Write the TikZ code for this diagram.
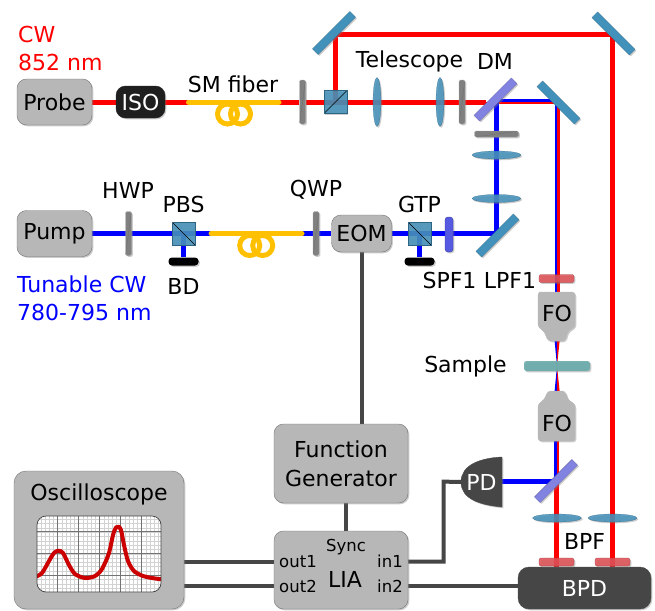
\documentclass[tikz,border=0pt]{standalone}
\usepackage{fontspec}
\setmainfont{DejaVu Sans}
\usepackage{tikz}
\usetikzlibrary{positioning}
\usetikzlibrary{calc}
\usetikzlibrary{shadows}
\usetikzlibrary{backgrounds}
\usetikzlibrary{shapes.geometric}
\definecolor{color-box}{RGB}{183,183,183}
\definecolor{color-edge}{RGB}{115,115,115}
\definecolor{color-dark}{RGB}{70,70,70}
\definecolor{color-fiber}{RGB}{255,192,0}
\definecolor{color-optic}{RGB}{66,145,187}
\definecolor{color-dichroic}{RGB}{130,130,225}
\definecolor{color-filter}{RGB}{224,78,84}
\definecolor{color-spf}{RGB}{85,90,225}
\definecolor{color-sample}{RGB}{105,170,170}

\begin{document}
\begin{tikzpicture}[x=1pt,y=-1pt,
  sh/.style={drop shadow={opacity=0.4,shadow xshift=1.3pt,shadow yshift=-1.3pt}},
  lbl/.style={inner sep=0pt,font=\fontsize{22}{26}\selectfont},
  small/.style={inner sep=0pt,font=\fontsize{16.5}{20}\selectfont},
  box/.style={rectangle,rounded corners=9.5pt,sh,fill=color-box,draw=color-edge,inner sep=0pt,
    font=\fontsize{22}{26}\selectfont,align=center},
  darkbox/.style={box,fill=color-dark,draw=color-dark,text=white},
  plate/.style={rectangle,rounded corners=1.5pt,sh,fill=gray,draw=gray!70,minimum width=6pt,minimum height=44pt,inner sep=0pt,
    path picture={\draw[black!60,very thin] (path picture bounding box.south west) -- (path picture bounding box.north east);}},
  lens/.style={ellipse,sh,fill=color-optic,fill opacity=0.85,draw=color-optic!70!black,very thin,minimum width=8pt,minimum height=49pt,inner sep=0pt},
  mirror/.style={rectangle,sh,fill=color-optic,draw=color-optic!70!black,very thin,minimum width=53pt,minimum height=8pt,inner sep=0pt},
  dichroic/.style={mirror,fill=color-dichroic,draw=color-dichroic!70!black},
  cube/.style={rectangle,sh,fill=color-optic,fill opacity=0.85,draw=color-optic!70!black,minimum size=23pt,inner sep=0pt},
  cubeup/.style={cube,path picture={\draw[black,thin] (path picture bounding box.south west) -- (path picture bounding box.north east);}},
  cubedown/.style={cube,path picture={\draw[black,thin] (path picture bounding box.north west) -- (path picture bounding box.south east);}},
  dump/.style={rectangle,rounded corners=3.5pt,sh,fill=black,minimum width=30pt,minimum height=8pt,inner sep=0pt},
  filt/.style={rectangle,rounded corners=2pt,sh,fill=color-filter,fill opacity=0.85,draw=color-filter!70!black,very thin,minimum width=35pt,minimum height=8pt,inner sep=0pt},
  redbeam/.style={red,line width=5pt},
  bluebeam/.style={blue,line width=5pt},
  fiber/.style={color-fiber,line width=5pt,line cap=round},
  wire/.style={color-dark,line width=4pt}]

\useasboundingbox (0,0) rectangle (655,610);

% sources and boxes
\node [box,minimum width=75pt,minimum height=46pt](probe) at (54.5,102) {Probe};
\node [darkbox,fill=black!88,draw=black!88,minimum width=49pt,minimum height=32pt](iso) at (140.5,102) {ISO};
\node [box,minimum width=75pt,minimum height=46pt](pump) at (54.5,233.5) {Pump};
\node [box,minimum width=60pt,minimum height=37pt](eom) at (361.5,233.5) {EOM};
\node [box,minimum width=134pt,minimum height=79pt](fgen) at (341,463.5) {Function\\[3pt]Generator};
\node [box,minimum width=134pt,minimum height=78pt](lia) at (341,570) {};
\node [box,rounded corners=12pt,minimum width=170pt,minimum height=138pt](oscope) at (99,540) {};
\node [darkbox,rounded corners=11pt,minimum width=133pt,minimum height=42pt](bpd) at (584.5,588) {BPD};

% top line
\node [plate](wp1) at (302.5,102) {};
\node [cubeup](pbs1) at (335.5,102) {};
\node [lens](lens1) at (377,102) {};
\node [lens](lens2) at (440,102) {};
\node [plate](wp2) at (462,102) {};
\node [dichroic](dm1) at (495.5,99.5) [rotate=45] {};
\node [mirror](mirror1) at (334,33) [rotate=45] {};
\node [mirror](mirror2) at (613.5,33.5) [rotate=-45] {};
\node [mirror](mirror3) at (558.5,102.5) [rotate=-45] {};

% pump line
\node [plate](wp3) at (128.5,233.5) {};
\node [cubedown](pbs2) at (183.5,233.5) {};
\node [dump](bd1) at (183.5,261.5) {};
\node [plate](wp4) at (316,233.5) {};
\node [cubedown](gtp) at (419.5,233.5) {};
\node [dump](bd2) at (419.5,261.5) {};
\node [plate,rounded corners=3pt,fill=color-spf,draw=color-spf!70!black,minimum width=8pt,minimum height=35pt,path picture={}](spf) at (449,234.5) {};
\node [mirror](mirror4) at (497.5,235.5) [rotate=45] {};
\node [lens,rotate=90](lens3) at (496.5,198.5) {};
\node [lens,rotate=90](lens4) at (496.5,155) {};
\node [plate,rotate=90](wp5) at (496.5,134) {};

% microscope
\node [filt](lpf) at (556.5,278.5) {};
\filldraw [color-box,sh] (542,292) [rounded corners=3pt] -- (575,292) -- (575,327) -- (568,331) -- (565,341) -- (548,341) -- (544,331) -- (538,327) -- (538,292) -- cycle;
\node [lbl](fo1) at (557,313) {FO};
\node [rectangle,rounded corners=2.5pt,sh,fill=color-sample,fill opacity=0.9,minimum width=66pt,minimum height=10pt,inner sep=0pt](sample) at (557,366) {};
\filldraw [color-box,sh] (548,391) [rounded corners=3pt] -- (565,391) -- (568,400) -- (575,404) -- (575,441) -- (538,441) -- (538,404) -- (544,400) -- cycle;
\node [lbl](fo2) at (557,423) {FO};

% detection
\node [dichroic](dm2) at (556,481) [rotate=45] {};
\node [lens,rotate=90](lens5) at (557,518) {};
\node [lens,rotate=90](lens6) at (612.5,518) {};
\node [filt](bpf1) at (556.5,562) {};
\node [filt](bpf2) at (612.5,562) {};
\filldraw [color-dark,sh] (502,457) .. controls (480,458) and (461,465) .. (461,482) .. controls (461,499) and (480,505) .. (502,507) -- cycle;
\node [lbl,text=white](pd) at (481.5,482) {PD};

% text
\node [lbl,red,anchor=west](cw) at (18,34) {CW};
\node [lbl,red,anchor=west](nm1) at (18,62) {852 nm};
\node [lbl](smf) at (233,84.5) {SM fiber};
\node [lbl](tel) at (409.5,61.5) {Telescope};
\node [lbl](dmtext) at (495,61) {DM};
\node [lbl](hwp) at (128,190) {HWP};
\node [lbl](pbs) at (183.5,204.5) {PBS};
\node [lbl](bd) at (183.5,286) {BD};
\node [lbl](qwp) at (316,190) {QWP};
\node [lbl](gtptext) at (419.5,204.5) {GTP};
\node [lbl,blue,anchor=west](tun) at (17,284.5) {Tunable CW};
\node [lbl,blue,anchor=west](nm2) at (17,312) {780-795 nm};
\node [lbl](spftext) at (449.5,280) {SPF1};
\node [lbl](lpftext) at (510,280) {LPF1};
\node [lbl](sampletext) at (465.5,366.5) {Sample};
\node [lbl](bpftext) at (584.5,541) {BPF};
\node [lbl](osctext) at (99,494) {Oscilloscope};
\node [small](sync) at (346,547.5) {Sync};
\node [lbl](liatext) at (345,579.5) {LIA};
\node [small](out1) at (298,561.5) {out1};
\node [small](out2) at (298,586) {out2};
\node [small](in1) at (390,561.5) {in1};
\node [small](in2) at (390,586) {in2};

% screen of the oscilloscope
\node [rectangle,rounded corners=9pt,fill=white,minimum width=124pt,minimum height=76pt,inner sep=0pt](screen) at (99,554) {};
\begin{scope}
\clip [rounded corners=9pt] (37,516) rectangle (161,592);
\foreach \i in {0,...,29} {
  \draw [gray!35,line width=0.25pt] (36.6+4.2*\i,516) -- (36.6+4.2*\i,592);
}
\foreach \i in {0,...,18} {
  \draw [gray!35,line width=0.25pt] (37,515+4.3*\i) -- (161,515+4.3*\i);
}
\foreach \i in {57.3,78.3,99.3,120.3,141.3} {
  \draw [gray!90!black,line width=0.5pt] (\i,516) -- (\i,592);
}
\foreach \i in {531.7,553.3,575} {
  \draw [gray!90!black,line width=0.5pt] (37,\i) -- (161,\i);
}
\draw [red!80!black,line width=4pt,line join=round] plot [smooth] coordinates {(35,577) (42,573) (49,561) (54,553) (58.5,550.7) (63,553) (69,565) (75,574) (85,578) (95,576) (102,569) (109,553) (113,535) (116,527.5) (118.5,526.7) (121,530) (124,545) (128,561) (134,571) (143,576) (152,578) (163,579.5)};
\end{scope}
\draw [black!75,rounded corners=9pt,line width=0.7pt] (37,516) rectangle (161,592);

\begin{pgfonlayer}{background}
% probe beam
\draw [redbeam] (probe) -- (iso);
\coordinate (f1a) at (188.5,102);
\coordinate (f1b) at (279,102);
\draw [redbeam] (iso) -- (f1a);
\draw [redbeam] (f1b) -- (wp1) -- (pbs1.center) -- (lens1.center) -- (lens2.center) -- (wp2.center) -- (486,102);
\coordinate (r1) at (335.5,35);
\coordinate (r2) at (612,35);
\coordinate (r3) at (612,570);
\draw [redbeam] (pbs1.center) -- (r1) -- (r2) -- (r3);
% after the first dichroic
\coordinate (r4) at (486,103);
\coordinate (r5) at (558.4,103);
\coordinate (r6) at (558.4,292);
\coordinate (b1) at (496.5,100.6);
\coordinate (b2) at (556,100.6);
\coordinate (b3) at (556,292);
\draw [red,line width=2.5pt,line join=miter] (r4) -- (r5) -- (r6);
\draw [blue,line width=2.5pt,line join=miter] (b1) -- (b2) -- (b3);
% pump beam
\coordinate (f2a) at (211,233.5);
\coordinate (f2b) at (302,233.5);
\coordinate (b4) at (496.5,233.5);
\draw [bluebeam] (pump) -- (wp3.center) -- (pbs2.center) -- (f2a);
\draw [bluebeam] (pbs2.center) -- (bd1);
\draw [bluebeam] (f2b) -- (wp4.center) -- (eom);
\draw [bluebeam] (eom) -- (gtp.center) -- (spf.center |- gtp.center) -- (b4) -- (lens3.center) -- (lens4.center) -- (wp5.center) -- (b1);
\draw [bluebeam] (gtp.center) -- (bd2);
% focus
\fill [blue] (554.6,341) -- (557,341) -- (557,366) -- cycle;
\fill [red] (557,341) -- (559.6,341) -- (557,366) -- cycle;
\fill [blue] (554.6,391) -- (557,391) -- (557,366) -- cycle;
\fill [red] (557,391) -- (559.6,391) -- (557,366) -- cycle;
% below the lower objective
\coordinate (b5) at (555.6,441);
\coordinate (b6) at (555.6,482);
\coordinate (r7) at (558.2,441);
\coordinate (r8) at (558.2,482);
\coordinate (r9) at (556.7,482);
\coordinate (r10) at (556.7,570);
\draw [blue,line width=2.5pt] (b5) -- (b6);
\draw [red,line width=2.5pt] (r7) -- (r8);
\draw [redbeam] (r9) -- (r10);
\coordinate (pdout) at (500,481.7);
\coordinate (b7) at (555.6,481.7);
\draw [bluebeam] (pdout) -- (b7);
% fibers
\draw [fiber] (f1a) -- (f1b);
\draw [fiber] (227.5,114) circle [radius=10];
\draw [fiber] (240.5,114) circle [radius=10];
\draw [fiber] (f2a) -- (f2b);
\draw [fiber] (249.7,245.5) circle [radius=10];
\draw [fiber] (262.7,245.5) circle [radius=10];
% wires
\draw [wire] (eom.center |- eom.south) -- (eom.center |- fgen.north);
\draw [wire] (346,503) -- (346,531);
\draw [wire] (out1) -- (out1 -| oscope.east);
\draw [wire] (out2) -- (out2 -| oscope.east);
\coordinate (c1) at (443.7,561.5);
\coordinate (c2) at (443.7,481.7);
\draw [wire] (in1) -- (c1) -- (c2) -- (pd);
\draw [wire] (in2) -- (in2 -| bpd.west);
\end{pgfonlayer}

\end{tikzpicture}
\end{document}
